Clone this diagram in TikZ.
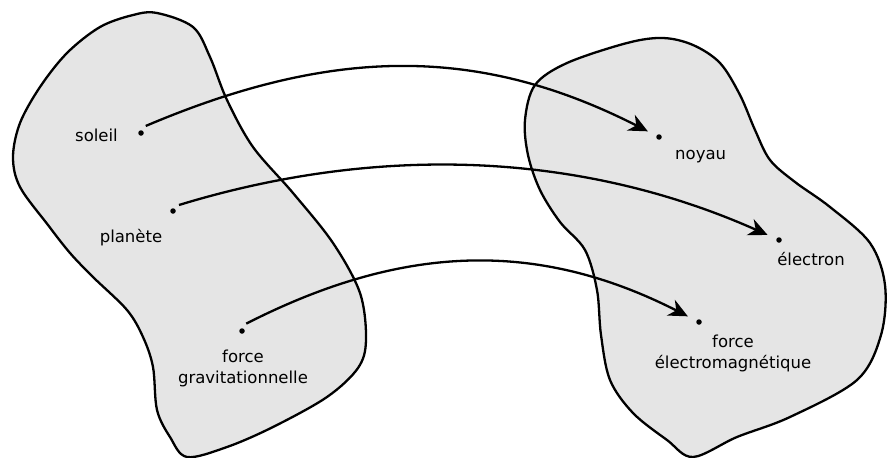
\documentclass[tikz,border=0pt]{standalone}
\usepackage{fontspec}
\setmainfont{DejaVu Sans}
\usepackage{tikz}
\usetikzlibrary{positioning, arrows.meta}
\tikzset{
x=1pt, y=1pt, % one unit per point
>={Stealth[length=19pt, width=17.5pt, inset=6pt]}, % big bold arrow heads
ensemble/.style={draw, line width=2.3pt, fill=gray!20}, % the two sets
point/.style={circle, fill, inner sep=0pt, minimum size=5.5pt, outer sep=5.75pt}, % an element, anchors kept off the dot
nom/.style={font=\fontsize{16.5}{21}\selectfont, align=center, inner sep=2pt}, % name of an element
fleche/.style={->, line width=2.3pt, shorten >=4pt}, % the correspondence
}

\begin{document}
\begin{tikzpicture}
                \useasboundingbox (0,0) rectangle (887,-458);
                % solar system
                \draw[ensemble] plot[smooth cycle, tension=0.55] coordinates {
                    (157,-13) (193,-27) (210,-57) (227,-100) (253,-147) (293,-193)
                    (333,-243) (360,-293) (366,-340) (358,-368) (327,-397) (273,-427)
                    (227,-447) (187,-457) (170,-437) (157,-410) (153,-367) (143,-337)
                    (127,-310) (93,-277) (70,-253) (48,-225) (20,-187) (13,-157)
                    (20,-123) (40,-87) (67,-53) (100,-27) (133,-15)};
                % atom
                \draw[ensemble] plot[smooth cycle, tension=0.55] coordinates {
                    (663,-38) (693,-45) (720,-63) (740,-95) (755,-130) (770,-160)
                    (795,-182) (830,-207) (870,-243) (885,-285) (881,-335) (857,-380)
                    (790,-417) (737,-437) (693,-457) (667,-440) (633,-413) (610,-380)
                    (601,-335) (597,-290) (585,-250) (560,-222) (540,-190) (528,-155)
                    (525,-120) (535,-85) (567,-63) (627,-43)};
                \node[point] (soleil) at (141,-133) {};
                \node[point] (planete) at (173,-211) {};
                \node[point] (gravit) at (242,-331) {};
                \node[point] (noyau) at (659,-137) {};
                \node[point] (electron) at (779,-240) {};
                \node[point] (emag) at (699,-322) {};
                \node[nom, left=12.5pt of soleil, yshift=-2.75pt] (soleil-nom) {soleil};
                \node[nom, below=7.5pt of planete, xshift=-42pt] (planete-nom) {planète};
                \node[nom, below=8.5pt of gravit, xshift=1pt] (gravit-nom) {force\\gravitationnelle};
                \node[nom, below right=5.5pt and 8pt of noyau] (noyau-nom) {noyau};
                \node[nom, below=1.5pt of electron, xshift=32pt] (electron-nom) {électron};
                \node[nom, below=2pt of emag, xshift=34pt] (emag-nom) {force\\électromagnétique};
                \draw[fleche] (soleil.56) to[out=23, in=153] (noyau);
                \draw[fleche] (planete.45) to[out=17, in=156, looseness=0.9] (electron);
                \draw[fleche] (gravit.60) to[out=27, in=153] (emag);
\end{tikzpicture}
\end{document}
